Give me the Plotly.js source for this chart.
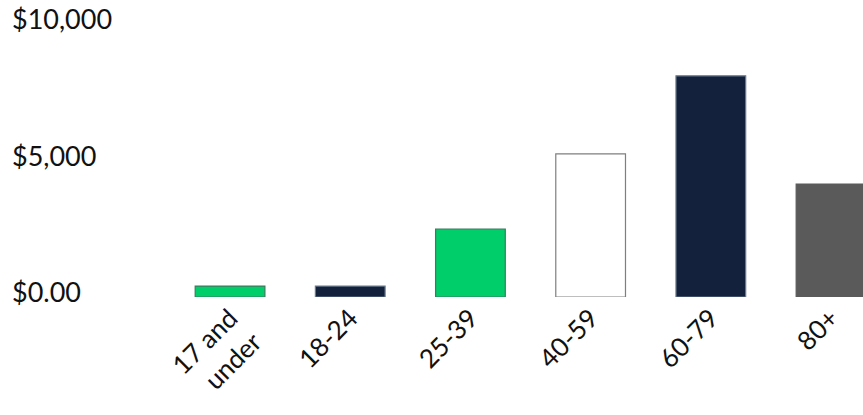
<!DOCTYPE html>
<html>
<head>
<meta charset="utf-8">
<script src="https://cdn.plot.ly/plotly-3.0.1.min.js"></script>
<style>html,body{margin:0;padding:0;background:#fff;}#chart{width:863px;height:415px;}</style>
</head>
<body>
<div id="chart"></div>
<script>
const categories = ["17 and<br>under", "18-24", "25-39", "40-59", "60-79", "80+"];
const values = [400, 400, 2490, 5240, 8100, 4140];
const barColors = ["#00CE6A", "#14213D", "#00CE6A", "#FFFFFF", "#14213D", "#5A5A5A"];
const barLineColors = ["#3E7A5C", "#6B7A8C", "#3E7A5C", "#7F7F7F", "#6B7A8C", "#5A5A5A"];
const yTickVals = [0, 5000, 10000];
const yTickText = ["$0.00", "$5,000", "$10,000"];

const trace = {
  type: "bar",
  x: categories,
  y: values,
  width: 0.58,
  marker: { color: barColors, line: { color: barLineColors, width: 1.2 } },
  hoverinfo: "none"
};

const layout = {
  width: 863, height: 415,
  margin: { l: 9, r: 0, t: 10, b: 118 },
  paper_bgcolor: "#fff", plot_bgcolor: "#fff",
  showlegend: false,
  font: { family: "Lato, 'Open Sans', sans-serif", color: "#111" },
  xaxis: {
    type: "category",
    range: [-1.839, 5.266],
    showgrid: false, zeroline: false, showline: false, ticks: "",
    tickangle: -45,
    tickfont: { size: 26, color: "#111" }
  },
  yaxis: {
    range: [0, 10513],
    showgrid: false, zeroline: false, showline: false, ticks: "",
    tickvals: yTickVals, ticktext: yTickText,
    ticklabelposition: "inside",
    ticklabeloverflow: "allow",
    ticklabelshift: -4,
    tickfont: { size: 27, color: "#111" }
  }
};

Plotly.newPlot("chart", [trace], layout, { displayModeBar: false, staticPlot: true });
</script>
</body>
</html>
